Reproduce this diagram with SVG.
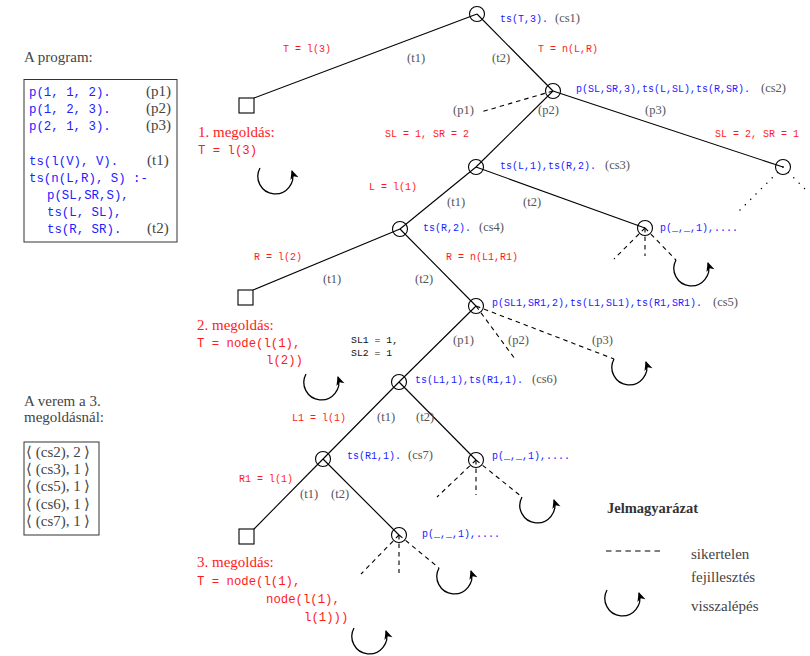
<svg xmlns="http://www.w3.org/2000/svg" xmlns:xlink="http://www.w3.org/1999/xlink" width="810" height="656" viewBox="0 0 810 656">
<style>
.mono{font-family:"Liberation Mono","DejaVu Sans Mono",monospace}
.serif{font-family:"Liberation Serif","DejaVu Serif",serif}
.prog{font-family:"Liberation Mono",monospace;font-size:12.4px;fill:#2020ff}
.lab{font-family:"Liberation Mono",monospace;font-size:10px;fill:#2020ff}
.sub{font-family:"Liberation Mono",monospace;font-size:10px;fill:#ff1a1a}
.big{font-family:"Liberation Mono",monospace;font-size:12.3px;fill:#ff1a1a}
.sol{font-family:"Liberation Serif",serif;font-size:15px;fill:#ff1a1a}
.g{font-family:"Liberation Serif",serif;font-size:12.5px;fill:#555}
.gb{font-family:"Liberation Serif",serif;font-size:15px;fill:#444}
.k{font-family:"Liberation Mono",monospace;font-size:9.8px;fill:#111}
.node{fill:none;stroke:#000;stroke-width:1.1}
.leaf{fill:#fff;stroke:#000;stroke-width:1.1}
.e{stroke:#000;stroke-width:1.1;fill:none}
.d{stroke:#000;stroke-width:1.1;fill:none;stroke-dasharray:4.5 4}
.dot{stroke:#000;stroke-width:1.4;fill:none;stroke-dasharray:0.1 7.5;stroke-linecap:round}
.box{fill:none;stroke:#333;stroke-width:1}
</style>
<defs>
<marker id="ah" viewBox="-10 -6 12 12" refX="0" refY="0" markerWidth="12" markerHeight="12" markerUnits="userSpaceOnUse" orient="auto">
<path d="M1,0 L-8,-4.2 L-5.5,0 L-8,4.2 z" fill="#000"/>
</marker>
<path id="loop" d="M -16 -8 A 17.5 17.5 0 1 0 16 -5" fill="none" stroke="#000" stroke-width="1.3" marker-end="url(#ah)"/>
</defs>
<rect width="810" height="656" fill="#fff"/>

<!-- left panel -->
<g id="program">
<text class="gb" x="24" y="62">A program:</text>
<rect class="box" x="24" y="79.5" width="153" height="162.5"/>
<text class="prog" x="29" y="96">p(1, 1, 2).</text>
<text class="prog" x="29" y="113">p(1, 2, 3).</text>
<text class="prog" x="29" y="130">p(2, 1, 3).</text>
<text class="prog" x="29" y="165">ts(l(V), V).</text>
<text class="prog" x="29" y="182">ts(n(L,R), S) :-</text>
<text class="prog" x="47" y="199">p(SL,SR,S),</text>
<text class="prog" x="47" y="216">ts(L, SL),</text>
<text class="prog" x="47" y="233">ts(R, SR).</text>
<text class="gb" x="146" y="96">(p1)</text>
<text class="gb" x="146" y="113">(p2)</text>
<text class="gb" x="146" y="130">(p3)</text>
<text class="gb" x="147" y="165">(t1)</text>
<text class="gb" x="147" y="233">(t2)</text>
</g>

<g id="stack">
<text class="gb" x="24" y="406">A verem a 3.</text>
<text class="gb" x="24" y="422">megoldásnál:</text>
<rect class="box" x="24" y="442" width="75" height="93"/>
<text class="gb" x="26" y="457">⟨ (cs2), 2 ⟩</text>
<text class="gb" x="26" y="474">⟨ (cs3), 1 ⟩</text>
<text class="gb" x="26" y="491">⟨ (cs5), 1 ⟩</text>
<text class="gb" x="26" y="509">⟨ (cs6), 1 ⟩</text>
<text class="gb" x="26" y="526">⟨ (cs7), 1 ⟩</text>
</g>

<!-- connectors -->
<g id="connectors">
<line class="e" x1="477" y1="14" x2="254" y2="98"/>
<line class="e" x1="477" y1="14" x2="553" y2="91"/>
<line class="e" x1="553" y1="91" x2="476" y2="167"/>
<line class="e" x1="553" y1="91" x2="783" y2="167"/>
<line class="d" x1="553" y1="91" x2="481" y2="112"/>
<line class="dot" x1="783" y1="167" x2="738" y2="212"/>
<line class="dot" x1="783" y1="167" x2="808" y2="192"/>
<line class="e" x1="476" y1="167" x2="400" y2="229"/>
<line class="e" x1="476" y1="167" x2="645" y2="228"/>
<line class="d" x1="645" y1="228" x2="614" y2="259"/>
<line class="d" x1="645" y1="228" x2="645" y2="256"/>
<line class="d" x1="645" y1="228" x2="676" y2="260"/>
<line class="e" x1="400" y1="229" x2="253" y2="290"/>
<line class="e" x1="400" y1="229" x2="476" y2="306"/>
<line class="e" x1="476" y1="306" x2="399" y2="382"/>
<line class="d" x1="476" y1="306" x2="515" y2="359"/>
<line class="d" x1="476" y1="306" x2="614" y2="359"/>
<line class="e" x1="399" y1="382" x2="323" y2="459"/>
<line class="e" x1="399" y1="382" x2="476" y2="460"/>
<line class="d" x1="476" y1="460" x2="437" y2="497"/>
<line class="d" x1="476" y1="460" x2="476" y2="495"/>
<line class="d" x1="476" y1="460" x2="522" y2="497"/>
<line class="e" x1="323" y1="459" x2="254" y2="529"/>
<line class="e" x1="323" y1="459" x2="399" y2="535"/>
<line class="d" x1="399" y1="535" x2="361" y2="574"/>
<line class="d" x1="399" y1="535" x2="399" y2="573"/>
<line class="d" x1="399" y1="535" x2="439" y2="568"/>
</g>

<!-- backtracking loops -->
<g id="loops">
<use xlink:href="#loop" href="#loop" transform="translate(276,176)"/>
<use xlink:href="#loop" href="#loop" transform="translate(692,268)"/>
<use xlink:href="#loop" href="#loop" transform="translate(322,382)"/>
<use xlink:href="#loop" href="#loop" transform="translate(630,367)"/>
<use xlink:href="#loop" href="#loop" transform="translate(538,505)"/>
<use xlink:href="#loop" href="#loop" transform="translate(455,576)"/>
<use xlink:href="#loop" href="#loop" transform="translate(370,636)"/>
</g>

<!-- nodes -->
<g id="cs1">
<circle class="node" cx="477" cy="14" r="7.5"/>
<text class="lab" x="500" y="22">ts(T,3).</text>
<text class="g" x="555" y="22">(cs1)</text>
</g>
<g id="cs2">
<circle class="node" cx="553" cy="91" r="7.5"/>
<text class="lab" x="576" y="92">p(SL,SR,3),ts(L,SL),ts(R,SR).</text>
<text class="g" x="761" y="92">(cs2)</text>
</g>
<g id="n-right">
<circle class="node" cx="783" cy="167" r="7.5"/>
</g>
<g id="cs3">
<circle class="node" cx="476" cy="167" r="7.5"/>
<text class="lab" x="500" y="169">ts(L,1),ts(R,2).</text>
<text class="g" x="605" y="169">(cs3)</text>
</g>
<g id="cs4">
<circle class="node" cx="400" cy="229" r="7.5"/>
<text class="lab" x="423" y="231">ts(R,2).</text>
<text class="g" x="479" y="231">(cs4)</text>
</g>
<g id="fail1">
<circle class="node" cx="645" cy="228" r="7.5"/>
<text class="lab" x="660" y="231">p(_,_,1),....</text>
</g>
<g id="cs5">
<circle class="node" cx="476" cy="306" r="7.5"/>
<text class="lab" x="492" y="306">p(SL1,SR1,2),ts(L1,SL1),ts(R1,SR1).</text>
<text class="g" x="713" y="306">(cs5)</text>
</g>
<g id="cs6">
<circle class="node" cx="399" cy="382" r="7.5"/>
<text class="lab" x="415" y="383">ts(L1,1),ts(R1,1).</text>
<text class="g" x="532" y="383">(cs6)</text>
</g>
<g id="cs7">
<circle class="node" cx="323" cy="459" r="7.5"/>
<text class="lab" x="347" y="459">ts(R1,1).</text>
<text class="g" x="408" y="459">(cs7)</text>
</g>
<g id="fail2">
<circle class="node" cx="476" cy="460" r="7.5"/>
<text class="lab" x="492" y="459">p(_,_,1),....</text>
</g>
<g id="fail3">
<circle class="node" cx="399" cy="535" r="7.5"/>
<text class="lab" x="422" y="537">p(_,_,1),....</text>
</g>
<g id="sol1">
<rect class="leaf" x="239" y="98" width="15" height="15"/>
<text class="sol" x="198" y="137">1. megoldás:</text>
<text class="big" x="198" y="154">T = l(3)</text>
</g>
<g id="sol2">
<rect class="leaf" x="238" y="290" width="15" height="15"/>
<text class="sol" x="197" y="330">2. megoldás:</text>
<text class="big" x="197" y="347">T = node(l(1),</text>
<text class="big" x="266" y="364">l(2))</text>
</g>
<g id="sol3">
<rect class="leaf" x="239" y="529" width="15" height="15"/>
<text class="sol" x="197" y="567">3. megoldás:</text>
<text class="big" x="197" y="585">T = node(l(1),</text>
<text class="big" x="266" y="603">node(l(1),</text>
<text class="big" x="304" y="621">l(1)))</text>
</g>

<!-- edge labels -->
<g id="edge-labels">
<text class="sub" x="283" y="52">T = l(3)</text>
<text class="sub" x="538" y="52">T = n(L,R)</text>
<text class="g" x="407" y="62">(t1)</text>
<text class="g" x="492" y="62">(t2)</text>
<text class="g" x="453" y="114">(p1)</text>
<text class="g" x="538" y="114">(p2)</text>
<text class="g" x="645" y="114">(p3)</text>
<text class="sub" x="385" y="137">SL = 1, SR = 2</text>
<text class="sub" x="715" y="137">SL = 2, SR = 1</text>
<text class="sub" x="369" y="190">L = l(1)</text>
<text class="g" x="447" y="206">(t1)</text>
<text class="g" x="523" y="206">(t2)</text>
<text class="sub" x="254" y="260">R = l(2)</text>
<text class="sub" x="446" y="260">R = n(L1,R1)</text>
<text class="g" x="323" y="283">(t1)</text>
<text class="g" x="415" y="283">(t2)</text>
<text class="k" x="351" y="343">SL1 = 1,</text>
<text class="k" x="351" y="356">SL2 = 1</text>
<text class="g" x="453" y="344">(p1)</text>
<text class="g" x="508" y="344">(p2)</text>
<text class="g" x="592" y="344">(p3)</text>
<text class="sub" x="292" y="421">L1 = l(1)</text>
<text class="g" x="377" y="421">(t1)</text>
<text class="g" x="416" y="421">(t2)</text>
<text class="sub" x="239" y="482">R1 = l(1)</text>
<text class="g" x="300" y="498">(t1)</text>
<text class="g" x="331" y="498">(t2)</text>
</g>

<!-- legend -->
<g id="legend">
<text class="serif" x="607" y="513" font-size="14.5" font-weight="bold" fill="#333">Jelmagyarázat</text>
<line x1="606" y1="551" x2="663" y2="551" stroke="#000" stroke-width="1.1" stroke-dasharray="5.5 4.2"/>
<text class="gb" x="691" y="559">sikertelen</text>
<text class="gb" x="691" y="582">fejillesztés</text>
<use xlink:href="#loop" href="#loop" transform="translate(623,598)"/>
<text class="gb" x="691" y="611">visszalépés</text>
</g>
</svg>
